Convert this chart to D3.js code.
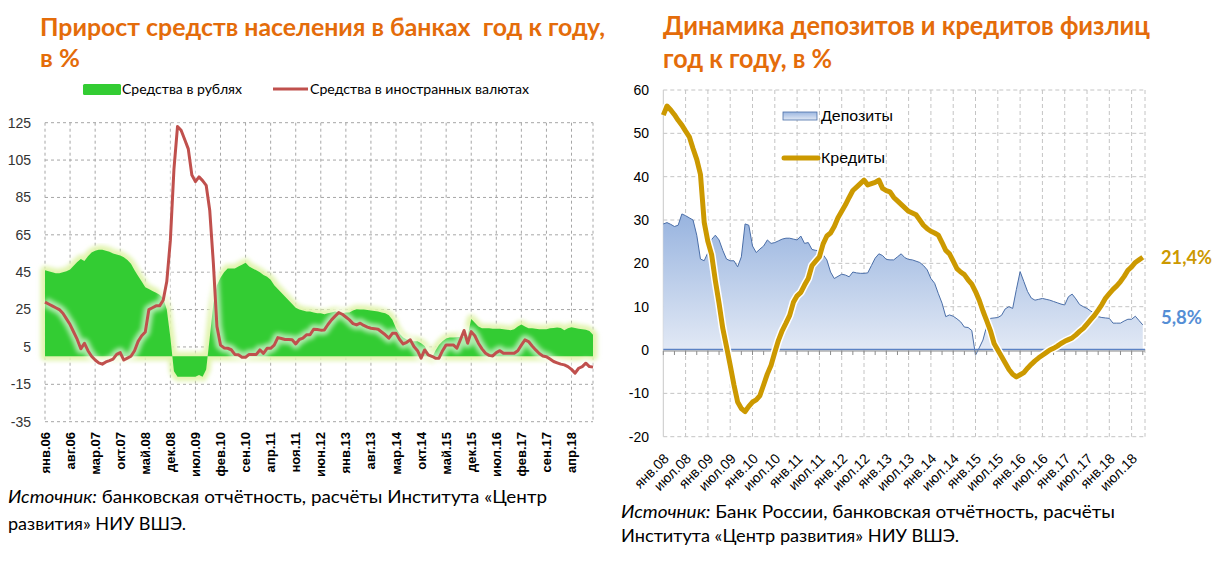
<!DOCTYPE html>
<html><head><meta charset="utf-8">
<script src="https://cdn.jsdelivr.net/npm/d3@7"></script>
<style>body{margin:0;background:#fff}svg{display:block}</style>
</head><body>
<svg id="c" width="1222" height="564"></svg>
<script>
// ---------- LEFT CHART DATA (monthly, янв.2006 – окт.2018) ----------
const leftTickLabels = ["янв.06","авг.06","мар.07","окт.07","май.08","дек.08","июл.09","фев.10","сен.10","апр.11","ноя.11","июн.12","янв.13","авг.13","мар.14","окт.14","май.15","дек.15","июл.16","фев.17","сен.17","апр.18"];
const leftYTicks = [125,105,85,65,45,25,5,-15,-35];
const rubDeposits = [46,45.5,45,44.5,44.5,45,45.5,46.5,48.5,50.5,52,51,53.5,55.5,56.5,57,57,56.5,56,55,54.5,54,53,51.5,49.5,46,43,40,37,36,35,34,33,31,25,10,-8,-11,-11,-11,-11,-11,-11,-10,-11,-7,10,28,38,42,45,47,47,47,48,49,50,48,47,46,45,43.5,42.5,41,38,36,34,32,30,28,26,25,24.5,24,24,23.5,23,23,22.5,23,23.5,24,23.5,23,23.5,23.5,24.5,25.2,25,25,24.8,24.5,24.2,24,23.5,23,22,19.5,15,12,10,9,8.5,8,8,7,5.5,2,-1,3,6,8,9.5,10,10,10.2,10.5,10.5,11,20,18,16,15,15,15,14.8,14.7,14.7,14.5,14.2,14,14.5,16,17,16,15,15,14.8,14.5,14.5,14.5,15,15.2,15.4,15.2,14,15,15.6,15.2,14.8,14.5,14.2,13.5,11.5];
const fxDeposits = [29,28,27,26,25,23,20,17,13,9,4,7,3,0,-2,-3.5,-4.2,-3,-2.3,-1.5,1,2,-2,-1,0,3,8,11,13,25,26,27,27,30,40,62,100,123,121,116,111,97,93.5,96,94,91.5,78,50,16,6,4.5,4.3,3.5,1,0.8,-0.5,-0.5,1,1,1,3.4,1.6,4.3,4.3,6,10,9.5,9,9,8.8,6.6,9,9.7,11.5,11.5,14.5,14.3,14,14.1,17,19.5,21.5,23.4,22.5,21,19.5,17.5,16.8,17.7,16.5,15.6,15,14.8,14.5,13,11.5,9.7,12.3,12.3,9,6.6,7.5,8.8,5.2,3,-1,3.4,0.8,0,-1,-1,3,6.1,6.1,6.1,4.3,9,13.8,7,13.2,11,7,4,1.6,0.5,0.2,2,3,1.6,1.6,1.6,1.6,3,6,8.8,7.9,5.5,3.4,1.5,0.2,-0.2,-1.5,-2.8,-3.5,-4.2,-4.6,-5.5,-7,-9,-6.4,-5.5,-3.7,-5.5,-5.8];

// ---------- RIGHT CHART DATA (monthly, янв.2008 – окт.2018) ----------
const rightTickLabels = ["янв.08","июл.08","янв.09","июл.09","янв.10","июл.10","янв.11","июл.11","янв.12","июл.12","янв.13","июл.13","янв.14","июл.14","янв.15","июл.15","янв.16","июл.16","янв.17","июл.17","янв.18","июл.18"];
const rightYTicks = [60,50,40,30,20,10,0,-10,-20];
const deposits = [29.1,29.4,29,28.5,28.8,31.4,31,30.5,30,26.5,21,20.6,22.5,25.5,26.5,25.4,23,21,20.6,20.6,19.2,21.5,29.1,28.8,24,22.5,23.3,24,25.4,24.6,24.8,25.2,25.6,25.8,25.8,25.6,25.4,26.3,24.6,24.8,23.2,23,22.9,22,20.8,18,16.5,17,17.5,17.3,16.9,18,17.8,17.7,17.7,17.8,19.5,21.2,22.2,21.8,20.9,20.8,20.8,21.5,22.2,21.3,20.9,20.8,20.5,20.2,19.5,18.5,16.5,15.4,13,10.8,7.7,8.1,7.8,7.2,6.5,5.3,5.2,4.5,-1.2,0.5,2.3,5.5,7.3,7.4,7.5,8,9.5,10,9.6,14,18.1,15.8,13.5,12,11.5,11.7,11.9,11.7,11.5,11.2,10.9,10.6,10.4,12.3,12.9,11.8,10.5,10,9.6,9,8.5,7.7,7.5,7.4,7.3,6.2,6.2,6.2,6.7,7.1,7.1,7.8,6.8,5.8];
const credits = [54.2,56.3,55.4,54.3,53,51.9,50.5,49.2,46.5,44,40.5,29.5,25,22,16,10.8,5,0.8,-3.5,-8,-12,-13.5,-14.2,-13,-12,-11.5,-10.5,-8,-5.5,-3.5,-0.5,2.3,4.5,6.2,8,11,12.5,13.3,15,16.5,19.5,20.5,21.5,24.5,26.3,27,28.5,30.5,32,33.5,35.2,36.8,37.6,38.4,39.2,38.1,38.4,38.7,39.2,37.3,36.8,36.5,35.2,34.4,33.6,32.8,32,31.6,31.2,30,28.8,28,27.4,27,26.5,24.8,23,22.2,20.5,18.8,18,17.4,16.2,15.2,13.5,11.5,9,6.8,4.5,1.5,0,-1.5,-3,-4.5,-5.6,-6.2,-5.7,-5.2,-4.2,-3.3,-2.5,-1.8,-1.2,-0.6,0,0.4,0.9,1.5,2,2.4,2.8,3.5,4.3,5,6,7,8,9.2,10.5,12,13,14,14.8,15.8,17,18.4,19.2,20.2,20.8,21.4];

const svg = d3.select("#c");
const defs = svg.append("defs");
defs.append("filter").attr("id","blur2").attr("x","-5%").attr("y","-5%").attr("width","110%").attr("height","110%")
  .append("feGaussianBlur").attr("stdDeviation",2);
const grad = defs.append("linearGradient").attr("id","depGrad").attr("gradientUnits","userSpaceOnUse")
  .attr("x1",0).attr("x2",0).attr("y1",220).attr("y2",350);
grad.append("stop").attr("offset","0%").attr("stop-color","#9bb6e0");
grad.append("stop").attr("offset","100%").attr("stop-color","#e2e9f5");
const grad2 = defs.append("linearGradient").attr("id","legGrad").attr("x1",0).attr("x2",0).attr("y1",0).attr("y2",1);
grad2.append("stop").attr("offset","0%").attr("stop-color","#9bb6e0");
grad2.append("stop").attr("offset","100%").attr("stop-color","#e2e9f5");

const ORANGE = "#E46C0A";
function fitText(sel, len){ sel.attr("textLength",len).attr("lengthAdjust","spacingAndGlyphs"); return sel; }

// ================= LEFT CHART =================
const xL = d3.scaleLinear().domain([0, rubDeposits.length-1]).range([45, 593]);
const yL = d3.scaleLinear().domain([-35,125]).range([421.7,122.7]);

fitText(svg.append("text").attr("x",40).attr("y",36).attr("font-family","Lato").attr("font-weight","bold")
  .attr("font-size",24).attr("fill",ORANGE).style("white-space","pre").text("Прирост средств населения в банках  год к году,"), 565);
fitText(svg.append("text").attr("x",40).attr("y",67).attr("font-family","Lato").attr("font-weight","bold")
  .attr("font-size",24).attr("fill",ORANGE).text("в %"), 40);

// legend
svg.append("rect").attr("x",83).attr("y",84).attr("width",38).attr("height",11).attr("rx",1.5).attr("fill","#33cc33");
fitText(svg.append("text").attr("x",122).attr("y",93.5).attr("font-family","Lato").attr("font-size",13).attr("fill","#000").text("Средства в рублях"),120);
svg.append("line").attr("x1",273).attr("x2",308).attr("y1",89).attr("y2",89).attr("stroke","#c0504d").attr("stroke-width",3);
fitText(svg.append("text").attr("x",310).attr("y",93.5).attr("font-family","Lato").attr("font-size",13).attr("fill","#000").text("Средства в иностранных валютах"),219);

// grid
const gL = svg.append("g");
gL.selectAll("line.h").data(leftYTicks).join("line")
  .attr("x1",45).attr("x2",593).attr("y1",d=>yL(d)).attr("y2",d=>yL(d))
  .attr("stroke","#a6a6a6").attr("stroke-dasharray","3,3").attr("stroke-width",1);
const leftTickIdx = leftTickLabels.map((_,i)=>i*7);
gL.selectAll("line.v").data(leftTickIdx.concat([rubDeposits.length-1])).join("line")
  .attr("x1",d=>xL(d)).attr("x2",d=>xL(d)).attr("y1",yL(125)).attr("y2",yL(-35))
  .attr("stroke","#a6a6a6").attr("stroke-dasharray","3,3").attr("stroke-width",1);
gL.append("line").attr("x1",45).attr("x2",593).attr("y1",yL(0)).attr("y2",yL(0)).attr("stroke","#999").attr("stroke-width",1);

// y labels
svg.append("g").selectAll("text").data(leftYTicks).join("text")
  .attr("x",31).attr("y",d=>yL(d)).attr("dy","0.35em").attr("text-anchor","end")
  .attr("font-family","Liberation Sans").attr("font-size",14).attr("fill","#333").text(d=>d);

// x labels
svg.append("g").selectAll("text").data(leftTickLabels).join("text")
  .attr("transform",(d,i)=>`translate(${xL(i*7)},432) rotate(-90)`)
  .attr("dy","0.35em").attr("text-anchor","end")
  .attr("font-family","Liberation Sans").attr("font-weight","bold").attr("font-size",13).attr("fill","#000").text(d=>d);

// area
const areaL = d3.area().x((d,i)=>xL(i)).y0(yL(0)).y1(d=>yL(d));
svg.append("path").datum(rubDeposits).attr("d",areaL).attr("fill","none")
  .attr("stroke","#e2f4b0").attr("stroke-width",9).attr("stroke-linejoin","round").attr("filter","url(#blur2)");
svg.append("path").datum(rubDeposits).attr("d",areaL).attr("fill","#33cc33");
// red line
const lineL = d3.line().x((d,i)=>xL(i)).y(d=>yL(d));
svg.append("path").datum(fxDeposits).attr("d",lineL).attr("fill","none")
  .attr("stroke","#ffffff").attr("stroke-opacity",0.6).attr("stroke-width",10).attr("stroke-linejoin","round").attr("filter","url(#blur2)");
svg.append("path").datum(fxDeposits).attr("d",lineL).attr("fill","none")
  .attr("stroke","#c0504d").attr("stroke-width",3).attr("stroke-linejoin","round");

// source left
const sL1 = svg.append("text").attr("x",8).attr("y",503).attr("font-family","Lato").attr("font-size",17).attr("fill","#000");
sL1.append("tspan").attr("font-style","italic").text("Источник:");
sL1.append("tspan").text(" банковская отчётность, расчёты Института «Центр");
fitText(sL1,539);
fitText(svg.append("text").attr("x",8).attr("y",530).attr("font-family","Lato").attr("font-size",17).attr("fill","#000").text("развития» НИУ ВШЭ."),178);

// ================= RIGHT CHART =================
const xR = d3.scaleLinear().domain([0, 129.6]).range([663.3, 1145]);
const yR = d3.scaleLinear().domain([-20,60]).range([436.7,90]);

fitText(svg.append("text").attr("x",663).attr("y",35).attr("font-family","Lato").attr("font-weight","bold")
  .attr("font-size",26).attr("fill",ORANGE).text("Динамика депозитов и кредитов физлиц"), 487);
fitText(svg.append("text").attr("x",663).attr("y",68).attr("font-family","Lato").attr("font-weight","bold")
  .attr("font-size",26).attr("fill",ORANGE).text("год к году, в %"), 169);

const gR = svg.append("g");
gR.selectAll("line.h").data(rightYTicks.filter(d=>d!==0)).join("line")
  .attr("x1",663.3).attr("x2",1145).attr("y1",d=>yR(d)).attr("y2",d=>yR(d))
  .attr("stroke","#c4c4c4").attr("stroke-dasharray","4,3").attr("stroke-width",1);
const rightTickIdx = rightTickLabels.map((_,i)=>i*6);
gR.selectAll("line.v").data(rightTickIdx.slice(1).concat([129.6])).join("line")
  .attr("x1",d=>xR(d)).attr("x2",d=>xR(d)).attr("y1",yR(60)).attr("y2",yR(-20))
  .attr("stroke","#c4c4c4").attr("stroke-dasharray","4,3").attr("stroke-width",1);
gR.append("line").attr("x1",663.3).attr("x2",663.3).attr("y1",yR(60)).attr("y2",yR(-20)).attr("stroke","#c8c8c8");

svg.append("g").selectAll("text").data(rightYTicks).join("text")
  .attr("x",649).attr("y",d=>yR(d)).attr("dy","0.35em").attr("text-anchor","end")
  .attr("font-family","Liberation Sans").attr("font-size",14).attr("fill","#000").text(d=>d);

// deposits area
const areaR = d3.area().x((d,i)=>xR(i)).y0(yR(0)).y1(d=>yR(d));
svg.append("path").datum(deposits).attr("d",areaR).attr("fill","url(#depGrad)");
svg.append("path").datum(deposits).attr("d",d3.line().x((d,i)=>xR(i)).y(d=>yR(d))).attr("fill","none")
  .attr("stroke","#4a6ea8").attr("stroke-width",1);
// zero axis
svg.append("line").attr("x1",663.3).attr("x2",1145).attr("y1",yR(0)-0.5).attr("y2",yR(0)-0.5).attr("stroke","#5b82c4").attr("stroke-width",1.5);
svg.append("line").attr("x1",663.3).attr("x2",1145).attr("y1",yR(0)+1).attr("y2",yR(0)+1).attr("stroke","#8c8c8c").attr("stroke-width",1);
svg.append("g").selectAll("line").data(d3.range(0,130,3)).join("line")
  .attr("x1",d=>xR(d)).attr("x2",d=>xR(d)).attr("y1",yR(0)+1).attr("y2",yR(0)+5).attr("stroke","#8c8c8c");

// credits line
const lineR = d3.line().x((d,i)=>xR(i)).y(d=>yR(d));
svg.append("path").datum(credits).attr("d",lineR).attr("fill","none").attr("stroke","#fff").attr("stroke-width",8).attr("stroke-linejoin","round");
svg.append("path").datum(credits).attr("d",lineR).attr("fill","none").attr("stroke","#cc9900").attr("stroke-width",5).attr("stroke-linejoin","round");

// x labels
svg.append("g").selectAll("text").data(rightTickLabels).join("text")
  .attr("transform",(d,i)=>`translate(${xR(i*6)+3},456) rotate(-45)`)
  .attr("dy","0.35em").attr("text-anchor","end")
  .attr("font-family","Liberation Sans").attr("font-size",14).attr("fill","#000").text(d=>d);

// legend
svg.append("rect").attr("x",783).attr("y",112).attr("width",34).attr("height",8).attr("fill","url(#legGrad)").attr("stroke","#4a6ea8").attr("stroke-width",0.8);
fitText(svg.append("text").attr("x",821).attr("y",121).attr("font-family","Liberation Sans").attr("font-size",15).attr("fill","#000").text("Депозиты"),72);
svg.append("line").attr("x1",784).attr("x2",818).attr("y1",158).attr("y2",158).attr("stroke","#cc9900").attr("stroke-width",5).attr("stroke-linecap","round");
fitText(svg.append("text").attr("x",821).attr("y",163).attr("font-family","Liberation Sans").attr("font-size",15).attr("fill","#000").text("Кредиты"),64);

// end labels
fitText(svg.append("text").attr("x",1161).attr("y",264).attr("font-family","Lato").attr("font-weight","bold").attr("font-size",18).attr("fill","#cc9900").text("21,4%"),51);
fitText(svg.append("text").attr("x",1161).attr("y",324).attr("font-family","Lato").attr("font-weight","bold").attr("font-size",18).attr("fill","#558ed5").text("5,8%"),41);

// source right
const sR1 = svg.append("text").attr("x",621).attr("y",518).attr("font-family","Lato").attr("font-size",17).attr("fill","#000");
sR1.append("tspan").attr("font-style","italic").text("Источник:");
sR1.append("tspan").text(" Банк России, банковская отчётность, расчёты");
fitText(sR1,494);
fitText(svg.append("text").attr("x",621).attr("y",542).attr("font-family","Lato").attr("font-size",17).attr("fill","#000").text("Института «Центр развития» НИУ ВШЭ."),338);
</script>
</body></html>
